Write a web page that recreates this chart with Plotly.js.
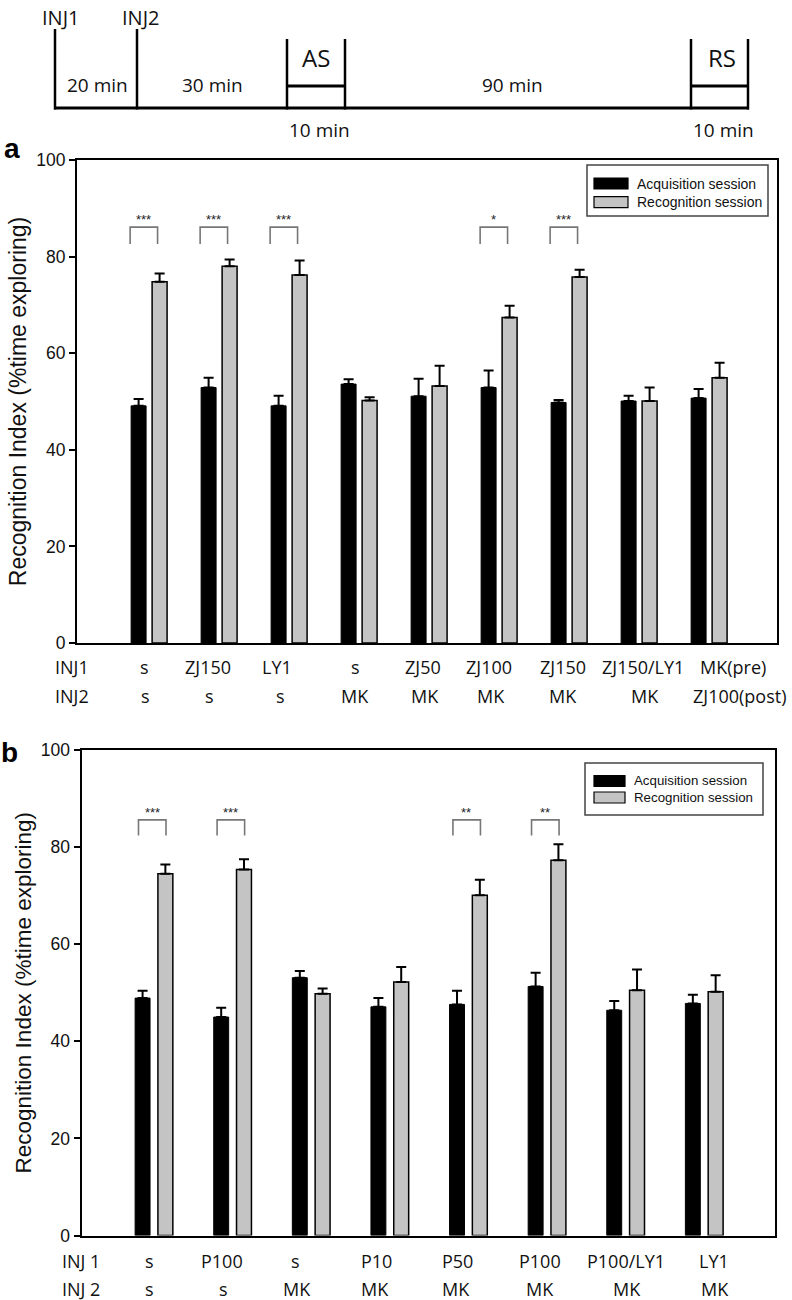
<!DOCTYPE html>
<html><head><meta charset="utf-8">
<script src="https://cdn.plot.ly/plotly-3.0.1.min.js"></script>
<style>body{margin:0;background:#fff}</style>
</head><body>
<div id="chart" style="width:792px;height:1300px"></div>
<script>
// ================= DATA =================
const seriesNames = ['Acquisition session', 'Recognition session'];
const yTicks = [0, 20, 40, 60, 80, 100];
const yTitle = 'Recognition Index (%time exploring)';

// Panel a
const inj1A = ['s', 'ZJ150', 'LY1', 's', 'ZJ50', 'ZJ100', 'ZJ150', 'ZJ150/LY1', 'MK(pre)'];
const inj2A = ['s', 's', 's', 'MK', 'MK', 'MK', 'MK', 'MK', 'ZJ100(post)'];
const acqA = [49.1, 52.9, 49.1, 53.6, 51.1, 52.9, 49.8, 50.1, 50.7];
const acqErrA = [1.4, 2.0, 2.1, 1.0, 3.6, 3.5, 0.5, 1.1, 1.9];
const recA = [74.8, 78.0, 76.2, 50.2, 53.2, 67.4, 75.8, 50.1, 54.9];
const recErrA = [1.7, 1.4, 3.0, 0.7, 4.2, 2.4, 1.5, 2.8, 3.1];
const sigGroupsA = [0, 1, 2, 5, 6];
const sigLabelsA = ['***', '***', '***', '*', '***'];
const rowHeadsA = ['INJ1', 'INJ2'];

// Panel b
const inj1B = ['s', 'P100', 's', 'P10', 'P50', 'P100', 'P100/LY1', 'LY1'];
const inj2B = ['s', 's', 'MK', 'MK', 'MK', 'MK', 'MK', 'MK'];
const acqB = [48.9, 45.0, 53.1, 47.1, 47.6, 51.3, 46.4, 47.8];
const acqErrB = [1.5, 1.9, 1.4, 1.8, 2.8, 2.8, 1.9, 1.8];
const recB = [74.5, 75.4, 49.8, 52.2, 70.1, 77.3, 50.5, 50.2];
const recErrB = [1.9, 2.1, 1.1, 3.1, 3.2, 3.3, 4.3, 3.4];
const sigGroupsB = [0, 1, 4, 5];
const sigLabelsB = ['***', '***', '**', '**'];
const rowHeadsB = ['INJ 1', 'INJ 2'];

// Timeline diagram text
const tlInj = ['INJ1', 'INJ2'];
const tlSessions = ['AS', 'RS'];
const tlIntervals = ['20 min', '30 min', '90 min'];
const tlSessionLen = ['10 min', '10 min'];

// ================= LAYOUT HELPERS =================
const W = 792, H = 1300;
const px = x => x / W;
const py = y => 1 - y / H;
const ARIAL = 'Liberation Sans, Arial, sans-serif';
const CAL = 'Open Sans, Noto Sans, sans-serif';
const GRAY = '#c4c4c4';

// label nudges (px) for category text rows
const nudgeA1 = [-5, -11, -12, -4, -6, -10, -6, 4, 24];
const nudgeA2 = [-4, -10, -9, -4, -4, -8, -6, 6, 30];
const nudgeB1 = [-4, -11, -16, -13, -11, -7, 0, 10];
const nudgeB2 = [-4, -9, -14, -15, -12, -7, 1, 11];

const idx = arr => arr.map((_, i) => i);
const zeros = arr => arr.map(() => 0);

function barPair(acq, acqErr, rec, recErr, xa, ya, w, offA, offR) {
  const x = idx(acq);
  return [
    { type: 'bar', name: seriesNames[0], x: x, y: acq, xaxis: xa, yaxis: ya,
      width: w, offset: offA, showlegend: false,
      marker: { color: '#000', line: { color: '#000', width: 1 } },
      error_y: { type: 'data', symmetric: false, array: acqErr, arrayminus: zeros(acqErr),
                 color: '#000', thickness: 2, width: 5 } },
    { type: 'bar', name: seriesNames[1], x: x, y: rec, xaxis: xa, yaxis: ya,
      width: w, offset: offR, showlegend: false,
      marker: { color: GRAY, line: { color: '#000', width: 1.5 } },
      error_y: { type: 'data', symmetric: false, array: recErr, arrayminus: zeros(recErr),
                 color: '#000', thickness: 2, width: 5 } }
  ];
}

const data = [
  ...barPair(acqA, acqErrA, recA, recErrA, 'x', 'y', 0.214, -0.257, 0.043),
  ...barPair(acqB, acqErrB, recB, recErrB, 'x2', 'y2', 0.19, -0.24, 0.05)
];

const shapes = [];
const annotations = [];

function line(x0, y0, x1, y1, w, c) {
  shapes.push({ type: 'line', xref: 'paper', yref: 'paper', x0: px(x0), y0: py(y0), x1: px(x1), y1: py(y1),
                line: { color: c || '#000', width: w || 2.5 } });
}
function text(t, x, y, size, opts) {
  annotations.push(Object.assign({ xref: 'paper', yref: 'paper', x: px(x), y: py(y), text: t,
    showarrow: false, xanchor: 'center', yanchor: 'middle',
    font: { family: CAL, size: size, color: '#111' } }, opts || {}));
}

// ---- timeline ----
line(55, 29, 55, 109.5, 2.5);
line(137, 29, 137, 109.5, 2.5);
line(54, 108, 749, 108, 3);
line(287, 39, 287, 109.5, 2.5); line(345, 39, 345, 109.5, 2.5); line(287, 86, 345, 86, 3);
line(691, 39, 691, 109.5, 2.5); line(748, 39, 748, 109.5, 2.5); line(691, 86, 748, 86, 3);
text(tlInj[0], 60, 17, 20);
text(tlInj[1], 140, 17, 20);
text(tlSessions[0], 316, 58, 24);
text(tlSessions[1], 722, 58, 24);
text(tlIntervals[0], 97, 85, 19);
text(tlIntervals[1], 212, 85, 19);
text(tlIntervals[2], 512, 85, 19);
text(tlSessionLen[0], 319, 130, 19);
text(tlSessionLen[1], 723, 130, 19);

// panel letters
text('a', 12, 149, 28, { font: { family: ARIAL, size: 28, color: '#000', weight: 'bold' } });
text('b', 9, 752, 28, { font: { family: ARIAL, size: 28, color: '#000', weight: 'bold' } });

// ---- significance brackets ----
function sig(groups, labels, xa, ya, l, r, yLow, yTop, sx) {
  groups.forEach((g, k) => {
    shapes.push({ type: 'path', xref: xa, yref: ya,
      path: `M${g + l},${yLow} L${g + l},${yTop} L${g + r},${yTop} L${g + r},${yLow}`,
      line: { color: '#777', width: 1.6 } });
    annotations.push({ xref: xa, yref: ya, x: g + sx, y: yTop, text: labels[k], showarrow: false,
      xanchor: 'center', yanchor: 'bottom', yshift: -2,
      font: { family: ARIAL, size: 13, color: '#222' } });
  });
}
sig(sigGroupsA, sigLabelsA, 'x', 'y', -0.271, 0.121, 82.6, 86.1, -0.08);
sig(sigGroupsB, sigLabelsB, 'x2', 'y2', -0.197, 0.153, 82.4, 85.6, -0.025);

// ---- custom legends ----
function legend(bx0, by0, bx1, by1, sx0, sx1, rows, tx, fs) {
  shapes.push({ type: 'rect', xref: 'paper', yref: 'paper', x0: px(bx0), y0: py(by0), x1: px(bx1), y1: py(by1),
                line: { color: '#444', width: 1.5 }, fillcolor: '#fff' });
  rows.forEach((r, k) => {
    shapes.push({ type: 'rect', xref: 'paper', yref: 'paper', x0: px(sx0), x1: px(sx1),
                  y0: py(r - 5.5), y1: py(r + 5.5),
                  line: { color: '#000', width: 1.2 }, fillcolor: k === 0 ? '#000' : GRAY });
    text(seriesNames[k], tx, r, fs, { xanchor: 'left', font: { family: ARIAL, size: fs, color: '#111' } });
  });
}
legend(587, 165, 768, 216, 594, 628, [183.5, 202.2], 635, 14);
legend(585, 763, 763, 815, 594, 625, [781, 797.5], 632, 13.3);

// ---- category labels ----
function catRows(r1, r2, n1, n2, xa, y1, y2, heads, hx) {
  r1.forEach((t, i) => annotations.push({ xref: xa, yref: 'paper', x: i, y: py(y1), xshift: n1[i], text: t,
    showarrow: false, xanchor: 'center', yanchor: 'middle', font: { family: CAL, size: 18, color: '#111' } }));
  r2.forEach((t, i) => annotations.push({ xref: xa, yref: 'paper', x: i, y: py(y2), xshift: n2[i], text: t,
    showarrow: false, xanchor: 'center', yanchor: 'middle', font: { family: CAL, size: 18, color: '#111' } }));
  text(heads[0], hx, y1, 18);
  text(heads[1], hx, y2, 18);
}
catRows(inj1A, inj2A, nudgeA1, nudgeA2, 'x', 667.5, 695.5, rowHeadsA, 72);
catRows(inj1B, inj2B, nudgeB1, nudgeB2, 'x2', 1260.5, 1289, rowHeadsB, 81);

// ---- axes ----
function xAxis(dom, range, anchor) {
  return { domain: dom, range: range, anchor: anchor, showline: true, mirror: true, linecolor: '#000',
           linewidth: 2, showticklabels: false, ticks: '', showgrid: false, zeroline: false, fixedrange: true };
}
function yAxis(dom, anchor, tsize) {
  return { domain: dom, range: [0, 100], anchor: anchor, tickvals: yTicks, ticks: 'outside', ticklen: 6,
           tickwidth: 2, tickcolor: '#000', showline: true, mirror: true, linecolor: '#000', linewidth: 2,
           showgrid: false, zeroline: false, fixedrange: true,
           tickfont: { family: ARIAL, size: 17.5, color: '#111' },
           title: { text: yTitle, font: { family: ARIAL, size: tsize, color: '#111' }, standoff: 3 } };
}

const layout = {
  width: W, height: H,
  margin: { l: 0, r: 0, t: 0, b: 0 },
  paper_bgcolor: '#fff', plot_bgcolor: '#fff',
  barmode: 'overlay',
  showlegend: false,
  xaxis: xAxis([77 / W, 777 / W], [-1.03, 8.97], 'y'),
  yaxis: yAxis([py(643), py(160)], 'x', 23),
  xaxis2: xAxis([81.5 / W, 775 / W], [-0.922, 7.90], 'y2'),
  yaxis2: yAxis([py(1235.5), py(750)], 'x2', 22.5),
  shapes: shapes,
  annotations: annotations
};

Plotly.newPlot('chart', data, layout, { staticPlot: true, displayModeBar: false });
</script>
</body></html>
